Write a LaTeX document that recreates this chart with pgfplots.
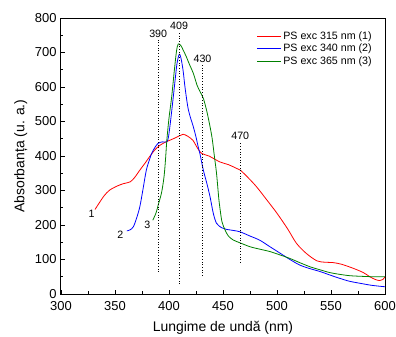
\documentclass[border=0pt]{standalone}
\usepackage{fontspec}
\setmainfont{Liberation Sans}
\usepackage{pgfplots}
\pgfplotsset{compat=1.18}
\begin{document}
\begin{tikzpicture}
\useasboundingbox (-61bp,-43bp) rectangle (335bp,294bp);
\begin{axis}[
  at={(0,0)}, anchor=south west,
  scale only axis, width=324bp, height=276bp,
  xmin=300, xmax=600, ymin=0, ymax=800,
  xtick={300,350,...,600}, ytick={0,100,...,800},
  minor tick num=1,
  tick pos=left, tick align=inside,
  major tick length=4bp, minor tick length=2.5bp,
  axis line style={line width=1bp},
  every tick/.style={black, line width=0.8bp},
  /pgf/number format/assume math mode=true,
  ticklabel style={font=\fontsize{13}{15}\selectfont},
  xticklabel style={yshift=-4bp},
  yticklabel style={xshift=-1bp},
  label style={font=\fontsize{14}{16}\selectfont},
  xlabel={Lungime de undă (nm)},
  ylabel={Absorbanța (u. a.)},
  xlabel style={at={(axis description cs:0.5,-0.123)}, anchor=center},
  ylabel style={at={(axis description cs:-0.124,0.5)}, anchor=center},
  legend style={at={(axis description cs:0.595,0.965)}, anchor=north west, draw=none, fill=none,
    font=\fontsize{10.7}{12}\selectfont, nodes={inner sep=1.6bp}},
  legend cell align=left,
  legend image code/.code={\draw[#1] (0bp,0bp) -- (24bp,0bp);},
]
\addplot[red, line width=0.8bp, smooth] coordinates {
(331.5,245) (335,262) (340,285) (345,301) (352,313) (358,320) (364,325) (368,337)
(373,359) (378,380) (382,398) (387,418) (392,432) (398,442) (404,450) (410,459)
(413,463) (417,458) (422,446) (426,425) (430,408) (437,400) (447,383) (455,375)
(462,365) (466,359) (473,338) (481,311) (490,275) (500,234) (510,188) (518,147)
(527,118) (537,96) (545,92) (552,91) (560,86) (571,74) (580,62) (586,50)
(591,42) (595,39) (598,42) (600,50)
};
\addlegendentry{PS exc 315 nm (1)}
\addplot[blue, line width=0.8bp, smooth] coordinates {
(361,183) (364,186) (367,195) (370,220) (373,253) (376,305) (379,359) (382,390)
(384,408) (387,425) (390,437) (394,441) (398,441) (399.5,455) (401,490) (402.5,530)
(404,572) (406,630) (407.5,670) (409.5,695) (411,685) (413,649) (415,595) (418,533)
(422.5,485) (425,455) (427,427) (428.7,406) (431.8,359) (435,321) (438,282) (441,234)
(444,205) (448.8,192) (453,187.5) (460,184) (466,180) (475,168) (484,156) (493,138)
(503,118) (512,100) (521,84) (530,74) (540,65) (549,55) (558,45.5) (567,37)
(577,31) (588,25) (600,21)
};
\addlegendentry{PS exc 340 nm (2)}
\addplot[green!50!black, line width=0.8bp, smooth] coordinates {
(385,214) (388,235) (390,258) (393,292) (395,330) (396,359) (397,400) (398,446)
(400,510) (402.5,572) (405,650) (407,705) (408.6,725) (411,720) (413,708) (416,688)
(419,665) (422.5,640) (426,605) (428.7,587) (431.8,567) (435,530) (438,485) (440,450)
(442,400) (444,350) (446,280) (447,253) (449,210) (452,185) (455,168) (459.5,156.5)
(466,148) (475,137) (484,130) (493.5,123) (503,113) (512,103) (521,91) (530.5,79)
(540,70) (549,62) (558,57) (567.6,53) (580,51) (590,50) (600,50)
};
\addlegendentry{PS exc 365 nm (3)}
\addplot[black, dotted, line width=0.7bp, forget plot] coordinates {(390,64) (390,736)};
\addplot[black, dotted, line width=0.7bp, forget plot] coordinates {(409.3,29) (409.3,759)};
\addplot[black, dotted, line width=0.7bp, forget plot] coordinates {(431,53) (431,664)};
\addplot[black, dotted, line width=0.7bp, forget plot] coordinates {(466,91) (466,438)};
\node[font=\fontsize{10.7}{12}\selectfont] at (axis cs:390,754) {390};
\node[font=\fontsize{10.7}{12}\selectfont] at (axis cs:409.3,776) {409};
\node[font=\fontsize{10.7}{12}\selectfont] at (axis cs:431,683) {430};
\node[font=\fontsize{10.7}{12}\selectfont] at (axis cs:466,458) {470};
\node[font=\fontsize{10.7}{12}\selectfont] at (axis cs:328.4,231) {1};
\node[font=\fontsize{10.7}{12}\selectfont] at (axis cs:355,173) {2};
\node[font=\fontsize{10.7}{12}\selectfont] at (axis cs:380,200) {3};
\end{axis}
\end{tikzpicture}
\end{document}
